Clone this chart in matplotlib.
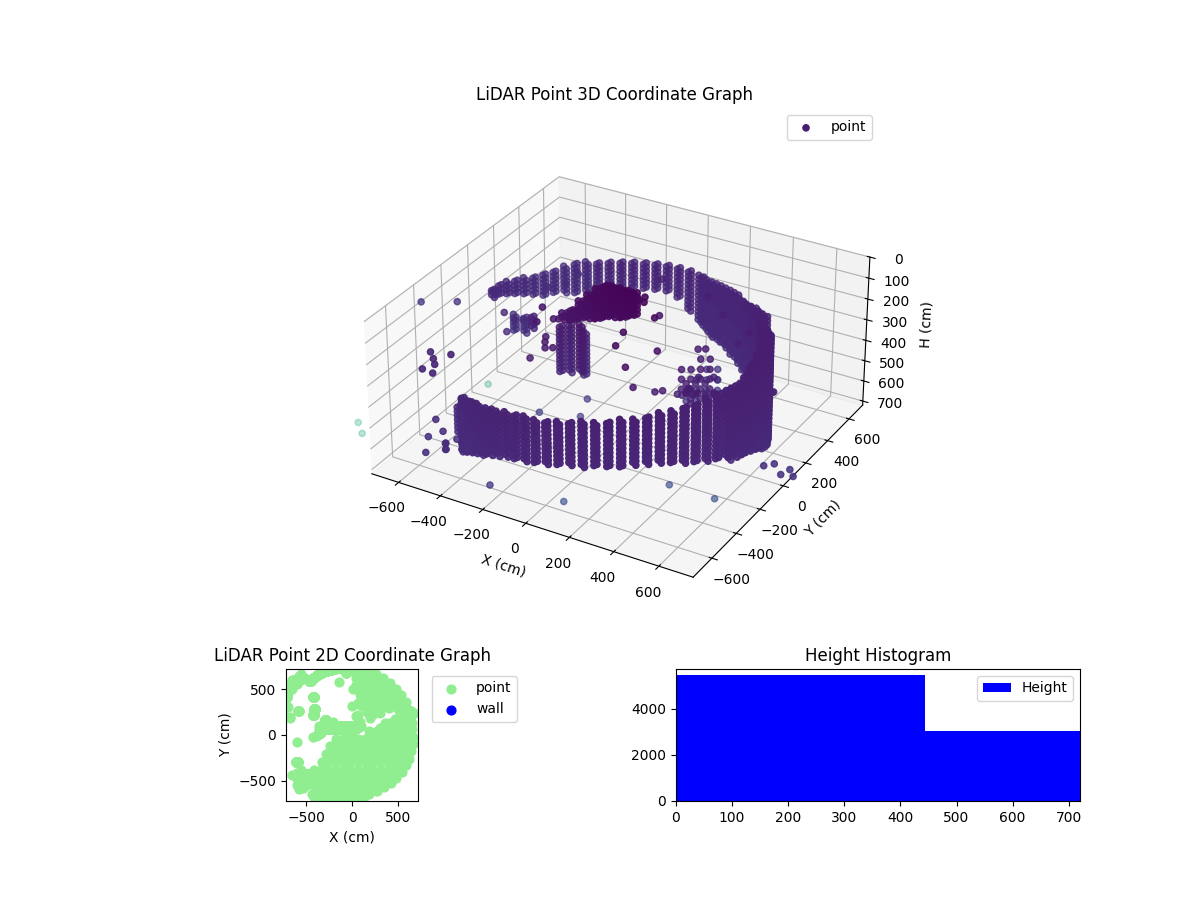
import numpy as np
import matplotlib
matplotlib.use('Agg')
import matplotlib.pyplot as plt

# beam heights of the scanner (cm) and the small sideways drift of each beam
scan_h = [0, 10, 20, 30, 40, 50, 60, 70, 80, 90, 100, 110, 120, 130, 140, 150, 160, 170, 180, 190,
          200, 210, 220, 230, 240, 250, 260, 270, 280, 290, 300, 310, 320, 330, 340, 350, 360, 370, 380, 390,
          400, 410, 420, 430, 440, 450, 460, 470, 480, 490, 500, 510, 520, 530, 540, 550, 560, 570, 580, 590,
          600, 610, 620, 630, 640, 650, 660, 670, 680, 690, 700, 710, 720, 730, 740, 750, 760, 770, 780, 790]
scan_dx = [-7, 7, -7, 7, -7, 7, -7, 7, -7, 7, -7, 7, -7, 7, -7, 7, -7, 7, -7, 7,
           -7, 7, -7, 7, -7, 7, -7, 7, -7, 7, -7, 7, -7, 7, -7, 7, -7, 7, -7, 7,
           -7, 7, -7, 7, -7, 7, -7, 7, -7, 7, -7, 7, -7, 7, -7, 7, -7, 7, -7, 7,
           -7, 7, -7, 7, -7, 7, -7, 7, -7, 7, -7, 7, -7, 7, -7, 7, -7, 7, -7, 7]

# wall columns: position, first and last beam hit
wall_x = [-494, -477, -467, -464, -428, -390, -349, -305, -260, -214, -166, -117, -67, -17, 33, 84, 133, 182, 229, 276,
          320, 363, 403, 441, 476, 508, 537, 562, 585, 603, 618, 629, 617, 611, 606, 601, 592, 577, 558, 534,
          510, 485, 456, 428,
          390, 350, 309, 267, 225, 176, 126, 74, 22, -31, -83, -137, -188, -237, -284, -331,
          -375, -418, -458, -529, -576, -628, -657, -682, -705, -723, -738, -749, -756, -760, -790,
          415, 370, 330, 288, 246, 200, 150, 100, 48, -5,
          611, 624, 615, 614, 609, 603, 596, 585, 567, 546, 522, 498, 470, 441]
wall_y = [-426, -450, -456, -441, -476, -508, -537, -562, -585, -603, -618, -629, -636, -640, -639, -635, -626, -614, -597, -578,
          -554, -527, -497, -464, -428, -390, -349, -305, -260, -214, -166, -117, -65, -17, 32, 81, 129, 177, 222, 268,
          295, 335, 373, 406,
          490, 534, 574, 608, 647, 670, 689, 705, 716, 725, 727, 729, 723, 711, 694, 675,
          651, 624, 594, 620, 605, 602, 561, 517, 472, 426, 378, 329, 279, 229, 285,
          470, 512, 555, 590, 628, 658, 680, 697, 711, 721,
          -190, -141, -92, -42, 8, 56, 105, 153, 199, 245, 281, 315, 354, 390]
wall_top = [448, 433, 432, 445, 422, 400, 378, 363, 349, 334, 319, 310, 300, 292, 285, 275, 265, 260, 256, 248,
            240, 233, 226, 219, 212, 207, 202, 197, 197, 195, 195, 195, 197, 175, 155, 145, 140, 155, 173, 195,
            212, 225, 235, 250,
            261, 277, 289, 303, 315, 309, 302, 302, 303, 297, 290, 283, 286, 286, 286, 286,
            286, 283, 281, 319, 329, 359, 364, 369, 364, 354, 344, 337, 330, 324, 367,
            245, 270, 283, 296, 312, 312, 305, 302, 303, 300,
            195, 190, 187, 180, 165, 150, 140, 145, 165, 180, 205, 225, 235, 250]
wall_bottom = [718, 700, 696, 705, 675, 648, 622, 600, 579, 559, 539, 525, 510, 500, 490, 482, 475, 470, 466, 463,
               461, 458, 456, 458, 461, 470, 480, 490, 500, 515, 530, 547, 564, 585, 608, 630, 652, 670, 687, 700,
               700, 670, 640, 610,
               626, 637, 647, 655, 663, 634, 606, 590, 573, 532, 496, 448, 428, 426, 423, 426,
               428, 433, 438, 476, 486, 499, 487, 487, 462, 444, 424, 406, 389, 374, 397,
               610, 630, 642, 651, 659, 648, 620, 598, 582, 552,
               522, 538, 555, 575, 596, 620, 640, 660, 678, 693, 700, 685, 658, 634]

# inner columns and the dense object near the scanner
inner_x = [-420, -410, -290, -420, -585, -720, -760, -600,
           10, -30, -70, -110, -150, -190, -230, -270, -310, -350,
           10, -30, -70, -110, -150, -190, -230, -270, -310, -350]
inner_y = [220, 280, 164, 418, 262, 417, 397, -300,
           100, 100, 100, 100, 100, 100, 100, 100, 100, 100,
           60, 60, 60, 60, 60, 60, 60, 60, 60, 60]
inner_top = [402, 426, 338, 539, 422, 541, 536, 590,
             65, 69, 69, 69, 94, 133, 172, 221, 256, 295,
             45, 49, 49, 49, 74, 113, 152, 201, 236, 275]
inner_bottom = [647, 671, 578, 760, 495, 639, 624, 735,
                187, 201, 216, 226, 241, 255, 265, 280, 290, 304,
                167, 181, 196, 206, 221, 235, 245, 260, 270, 284]

# low returns along the front left of the wall
skirt_x = [-560, -480, -400, -320, -240, -500, -420, -340, -260, -180,
           -560, -480, -400, -320, -240, -500, -420, -340, -260, -180]
skirt_y = [-465, -465, -465, -465, -465, -550, -550, -550, -550, -550,
           -465, -465, -465, -465, -465, -550, -550, -550, -550, -550]
skirt_h = [704, 678, 652, 626, 600, 638, 612, 586, 560, 534,
           674, 648, 622, 596, 570, 608, 582, 556, 530, 504]

# ground footprint, seen only from above in the 2D graph
ground_x = [360, 440, 520, 590,
            190, 270, 350, 430, 510, 590,
            -180, -100, -20, 60, 140, 220, 300, 380, 460, 540, 610,
            -240, -160, -80, 0, 80, 160, 240, 320, 400, 480, 560, 600,
            -280, -200, -120, -40, 40, 120, 200, 280, 360, 440, 520, 580,
            -330, -250, -170, -90, -10, 70, 150, 230, 310, 390, 470, 540,
            -420, -340, -260, -180, -100, -20, 60, 140, 220, 300, 380, 460,
            -560, -480, -400, -320, -240, -160, -80, 0, 80, 160, 240, 320, 400,
            -500, -420, -340, -260, -180, -100, -20, 60, 140, 220, 300,
            -440, -360, -280, -200, -120,
            -420, -340, -260, -180, -100, -20, 60, 130,
            200, 300, 400, 470, 540, 590,
            665, 660, 645, 620, 585, 540, 480, 420, 350, 270, 190, 110, 30, 655, 650, 640, 620,
            590, 530, 480, 410, 340, 260,
            260, 340, 220, 300, 140, 40, 110, 180, 300, 380, 460, 100, 250, 160, 120]
ground_y = [130, 130, 130, 130,
            45, 45, 45, 45, 45, 45,
            -40, -40, -40, -40, -40, -40, -40, -40, -40, -40, -40,
            -125, -125, -125, -125, -125, -125, -125, -125, -125, -125, -125, -125,
            -210, -210, -210, -210, -210, -210, -210, -210, -210, -210, -210, -210,
            -295, -295, -295, -295, -295, -295, -295, -295, -295, -295, -295, -295,
            -380, -380, -380, -380, -380, -380, -380, -380, -380, -380, -380, -380,
            -465, -465, -465, -465, -465, -465, -465, -465, -465, -465, -465, -465, -465,
            -550, -550, -550, -550, -550, -550, -550, -550, -550, -550, -550,
            -640, -640, -640, -640, -640,
            -680, -680, -680, -680, -680, -680, -680, -680,
            26, 80, 135, 175, 190, 180,
            -20, -100, -180, -260, -330, -400, -465, -520, -570, -610, -640, -665, -680, 60, 130, 200, 270,
            360, 440, 500, 570, 620, 670,
            300, 360, 390, 380, 410, 620, 640, 560, 520, 430, 420, 500, 450, 250, 320]

# returns in the upper right sector, they sit behind the thick part of the wall
upper_x = [100, 134, 168, 202, 100, 134, 168, 202, 134, 168,
           117, 151, 185, 117, 151, 185, 134, 100, 134, 168, 202, 168, 202, 185,
           190, 320, 400, 300, 200, 100, 400, 500, 520, 150, 100, 250,
           230, 310, 390, 470, 170, 250, 330, 90, 170, 250, 40, 120, 200, 280, 350, 430, 60,
           200, 300, 400, 460, 520, 560, 10, 70,
           -67, -30, 8, 49, -67, -30, 8, 49, -67, -30, 8, 49, -30, 8, 49, 8, 49, 49]
upper_y = [329, 349, 370, 390, 329, 349, 370, 390, 349, 370,
           339, 359, 380, 339, 359, 380, 349, 329, 349, 370, 390, 370, 390, 380,
           225, 290, 350, 450, 500, 550, 500, 350, 260, 300, 400, 350,
           230, 300, 340, 380, 320, 400, 450, 450, 480, 520, 540, 570, 600, 590, 560, 450, 620,
           190, 243, 296, 328, 340, 270, 500, 350,
           680, 703, 725, 749, 680, 703, 725, 749, 680, 703, 725, 749, 703, 725, 749, 725, 749, 749]
upper_h = [578, 578, 578, 578, 627, 627, 627, 627, 676, 676,
           600, 600, 600, 650, 650, 650, 700, 530, 530, 530, 530, 480, 480, 430,
           549, 622, 275, 407, 319, 280, 549, 534, 480, 593, 662, 618,
           556, 568, 564, 560, 624, 642, 643, 721, 711, 707, 786, 776, 766, 735, 697, 611, 823,
           543, 540, 537, 534, 522, 471, 774, 672,
           975, 975, 975, 975, 922, 922, 922, 922, 868, 868, 868, 868, 814, 814, 814, 760, 760, 814]

# single returns
single_x = [-374, -394, -364, -367, -367, -340, -421, -555, -739, -582, -676, -673, 63, 42, 60, 0, 97, -12, -39, 88,
            0, 3, 43, 70, 158, 216, 161, -633, -593, -563, -605, -532, -550, -1082, -949, -211, -138, -600,
            -239, -650, -62, 632, 647, 676, 571, 608, 455,
            -700, -720, -650, -600, -582,
            -575, -606, -500, -560, -600, -660,
            -2968, -2858, -2364]
single_y = [2, -10, 9, 7, 7, 24, -25, 660, 551, 644, 183, 195, 82, 70, 80, 316, 102, 38, 22, 142,
            34, 92, 205, 222, 364, 398, 366, -440, -480, -516, -543, -578, -417, 159, 238, 138, 582, -80,
            848, 604, 953, 214, 267, 240, 178, 200, 109,
            300, 400, 500, 560, 636,
            -586, -460, -430, -380, -420, -440,
            2238, 2118, 2632]
single_h = [200, 270, 343, 368, 397, 397, 446, 1049, 1118, 1142, 400, 500, 69, 83, 93, 289, 167, 235, 299, 348,
            397, 524, 593, 588, 431, 569, 569, 268, 268, 268, 288, 268, 268, 450, 450, 255, 279, 1110,
            1514, 1602, 1592, 823, 823, 833, 779, 770, 750,
            500, 554, 421, 417, 402,
            657, 574, 686, 700, 652, 686,
            2767, 2740, 2540]

hist_edges = [0, 444, 888]
hist_counts = [5450, 3030]

xs, ys, hs = [], [], []
for cx, cy, top, bottom in zip(inner_x + wall_x, inner_y + wall_y, inner_top + wall_top, inner_bottom + wall_bottom):
    for h, drift in zip(scan_h, scan_dx):
        if top <= h <= bottom:
            xs.append(cx + drift)
            ys.append(cy)
            hs.append(h)
xs = np.array(xs + skirt_x + upper_x + single_x)
ys = np.array(ys + skirt_y + upper_y + single_y)
hs = np.array(hs + skirt_h + upper_h + single_h)
dist = np.sqrt(xs**2 + ys**2 + hs**2)

fig = plt.figure(figsize=(12, 9))

ax = fig.add_axes([0.125, 0.2933, 0.775, 0.5867], projection='3d')
ax.scatter(xs, ys, hs, c=dist, cmap='viridis', vmin=0, vmax=7500, label='point')
ax.set_xlim(-730, 750)
ax.set_ylim(-750, 730)
ax.set_zlim(720, 0)
ax.set_box_aspect((1440, 1440, 684))
ax.set_xlabel('X (cm)')
ax.set_ylabel('Y (cm)')
ax.set_zlabel('H (cm)')
ax.set_title('LiDAR Point 3D Coordinate Graph')
ax.legend()

ax2 = fig.add_axes([0.125, 0.11, 0.3367, 0.1467])
ax2.scatter(np.concatenate([xs, ground_x]), np.concatenate([ys, ground_y]), c='lightgreen', s=40, label='point')
ax2.scatter([], [], c='blue', s=40, label='wall')
ax2.set_xlim(-720, 720)
ax2.set_ylim(-720, 720)
ax2.set_aspect('equal')
ax2.set_xlabel('X (cm)')
ax2.set_ylabel('Y (cm)')
ax2.set_title('LiDAR Point 2D Coordinate Graph')
ax2.legend(loc='upper left', bbox_to_anchor=(1.05, 1))

ax3 = fig.add_axes([0.5633, 0.11, 0.3367, 0.1467])
ax3.hist(hist_edges[:-1], bins=hist_edges, weights=hist_counts, color='blue', label='Height')
ax3.set_xlim(0, 720)
ax3.set_title('Height Histogram')
ax3.legend()

plt.savefig('out.png', dpi=100)
